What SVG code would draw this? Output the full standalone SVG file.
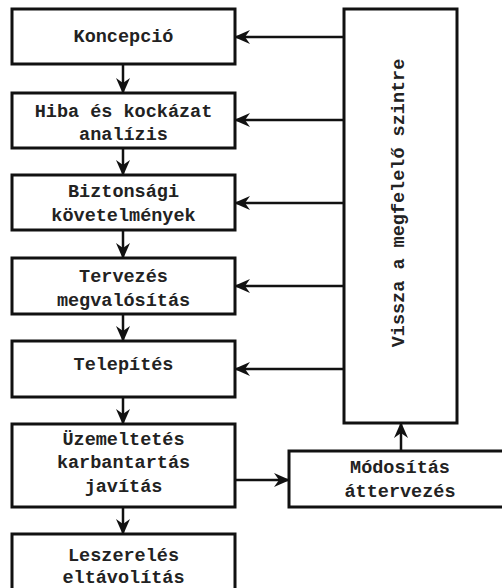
<svg xmlns="http://www.w3.org/2000/svg" width="502" height="588" viewBox="0 0 502 588">
  <defs>
    <marker id="arrow" viewBox="0 0 16 14" markerWidth="16" markerHeight="14" refX="15" refY="7" orient="auto" markerUnits="userSpaceOnUse">
      <path d="M0,0 L16,7 L0,14 L5,7 Z" fill="#111"/>
    </marker>
    <style>
      .box { fill: #fff; stroke: #111; stroke-width: 3; }
      .lbl { font-family: "Liberation Mono", "Courier New", monospace; font-size: 18.5px; font-weight: bold; fill: #222; text-anchor: middle; dominant-baseline: central; }
      .link { fill: none; stroke: #111; stroke-width: 2.5; marker-end: url(#arrow); }
    </style>
  </defs>
  <rect width="502" height="588" fill="#fff"/>

  <g id="n-koncepcio">
    <rect class="box" x="12" y="9" width="223" height="55"/>
    <text class="lbl" x="123.5" y="37">Koncepció</text>
  </g>
  <g id="n-hiba">
    <rect class="box" x="12" y="93" width="223" height="55"/>
    <text class="lbl" x="123.5" y="112">Hiba és kockázat</text>
    <text class="lbl" x="123.5" y="135">analízis</text>
  </g>
  <g id="n-biztonsagi">
    <rect class="box" x="12" y="175" width="223" height="55"/>
    <text class="lbl" x="123.5" y="192">Biztonsági</text>
    <text class="lbl" x="123.5" y="216">követelmények</text>
  </g>
  <g id="n-tervezes">
    <rect class="box" x="12" y="258" width="223" height="56"/>
    <text class="lbl" x="123.5" y="277">Tervezés</text>
    <text class="lbl" x="123.5" y="301">megvalósítás</text>
  </g>
  <g id="n-telepites">
    <rect class="box" x="12" y="341" width="223" height="56"/>
    <text class="lbl" x="123.5" y="365">Telepítés</text>
  </g>
  <g id="n-uzemeltetes">
    <rect class="box" x="12" y="424" width="223" height="83"/>
    <text class="lbl" x="123.5" y="440">Üzemeltetés</text>
    <text class="lbl" x="123.5" y="463">karbantartás</text>
    <text class="lbl" x="123.5" y="487">javítás</text>
  </g>
  <g id="n-leszereles">
    <rect class="box" x="12" y="534" width="223" height="70"/>
    <text class="lbl" x="123.5" y="556">Leszerelés</text>
    <text class="lbl" x="123.5" y="578">eltávolítás</text>
  </g>
  <g id="n-vissza">
    <rect class="box" x="344" y="9" width="113" height="414"/>
    <text class="lbl" transform="translate(399 203) rotate(-90)">Vissza a megfelelő szintre</text>
  </g>
  <g id="n-modositas">
    <rect class="box" x="289" y="451" width="220" height="56"/>
    <text class="lbl" x="400" y="468">Módosítás</text>
    <text class="lbl" x="400" y="492">áttervezés</text>
  </g>

  <g id="connectors">
    <line class="link" x1="123" y1="64" x2="123" y2="93"/>
    <line class="link" x1="123" y1="148" x2="123" y2="175"/>
    <line class="link" x1="123" y1="230" x2="123" y2="258"/>
    <line class="link" x1="123" y1="314" x2="123" y2="341"/>
    <line class="link" x1="123" y1="397" x2="123" y2="424"/>
    <line class="link" x1="123" y1="507" x2="123" y2="534"/>
    <line class="link" x1="344" y1="37" x2="235" y2="37"/>
    <line class="link" x1="344" y1="120" x2="235" y2="120"/>
    <line class="link" x1="344" y1="203" x2="235" y2="203"/>
    <line class="link" x1="344" y1="286" x2="235" y2="286"/>
    <line class="link" x1="344" y1="369" x2="235" y2="369"/>
    <line class="link" x1="235" y1="480" x2="289" y2="480"/>
    <line class="link" x1="401" y1="451" x2="401" y2="423"/>
  </g>
</svg>
